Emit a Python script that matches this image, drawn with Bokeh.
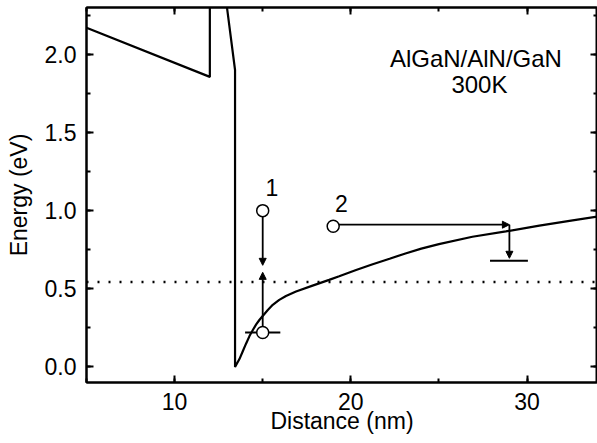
from bokeh.plotting import figure
from bokeh.models import (LinearAxis, SingleIntervalTicker, Span, Arrow, NormalHead,
                          ColumnDataSource, PrintfTickFormatter, CustomJSTickFormatter)
from bokeh.core.properties import value
from bokeh.embed import file_html
from bokeh.resources import INLINE

# ---------------- data ----------------
# Conduction band profile (nm, eV)
band_x = [5.0, 12.0, 12.0, 13.43, 13.43, 13.68, 13.87, 14.06, 14.25, 14.44, 14.63,
          14.81, 15.0, 15.29, 15.57, 15.94, 16.32, 16.89, 17.83, 18.77, 19.34,
          20.3, 21.2, 22.2, 23.1, 24.0, 25.0, 26.9, 28.8, 30.7, 32.5, 34.0]
band_y = [2.17, 1.856, 3.15, 1.90, 0.0, 0.05, 0.10, 0.15, 0.197, 0.236, 0.272,
          0.30, 0.326, 0.364, 0.397, 0.429, 0.454, 0.482, 0.52, 0.557, 0.580,
          0.620, 0.655, 0.692, 0.726, 0.757, 0.786, 0.833, 0.867, 0.904, 0.936, 0.962]

fermi_level = 0.544

# open circles (states)
circ_x = [15.0, 15.0, 19.0]
circ_y = [1.0, 0.22, 0.90]

# horizontal level bars
bar_x0 = [14.0, 27.9]
bar_x1 = [16.0, 30.05]
bar_y = [0.22, 0.68]

# arrows (start -> end)
arr_x0 = [15.0, 15.0, 19.0, 29.0]
arr_y0 = [1.0, 0.22, 0.91, 0.91]
arr_x1 = [15.0, 15.0, 29.0, 29.0]
arr_y1 = [0.65, 0.605, 0.91, 0.695]

# numbered labels
num_text = ["1", "2"]
num_x = [15.52, 19.47]
num_y = [1.145, 1.045]

title_lines = ["AlGaN/AlN/GaN", "300K"]
title_x = [27.1, 27.3]
title_y = [1.974, 1.81]

x_label = "Distance (nm)"
y_label = "Energy (eV)"

FONT = "Liberation Sans"
FS = "23px"

p = figure(width=597, height=443, x_range=(5, 34), y_range=(-0.1, 2.3),
           output_backend="svg", toolbar_location=None,
           min_border_left=86, min_border_top=7, min_border_right=0,
           min_border_bottom=61, x_axis_location=None, y_axis_location=None)
p.xgrid.visible = False
p.ygrid.visible = False
p.outline_line_color = "black"
p.outline_line_width = 2
p.background_fill_color = "white"
p.border_fill_color = "white"


def make_axis(interval, visible_labels, label=None, fmt=None):
    ax = LinearAxis(ticker=SingleIntervalTicker(interval=interval, num_minor_ticks=2))
    ax.axis_line_width = 2
    ax.major_tick_line_width = 2
    ax.minor_tick_line_width = 2
    ax.major_tick_in = 7
    ax.major_tick_out = 0
    ax.minor_tick_in = 4
    ax.minor_tick_out = 0
    ax.major_label_text_font = FONT
    ax.major_label_text_color = "black"
    if visible_labels:
        ax.major_label_text_font_size = FS
        if fmt:
            ax.formatter = PrintfTickFormatter(format=fmt)
    else:
        ax.formatter = CustomJSTickFormatter(code="return '';")
        ax.major_label_text_font_size = "1px"
        ax.major_label_standoff = 0
    if label:
        ax.axis_label = label
        ax.axis_label_text_font = FONT
        ax.axis_label_text_font_size = FS
        ax.axis_label_text_font_style = "normal"
        ax.axis_label_text_color = "black"
    return ax


xb = make_axis(10, True, x_label, "%d")
xb.major_label_standoff = 10
xb.axis_label_standoff = -5
yl = make_axis(0.5, True, y_label, "%.1f")
yl.major_label_standoff = 10
yl.axis_label_standoff = 10
xt = make_axis(10, False)
yr = make_axis(0.5, False)
p.add_layout(xb, "below")
p.add_layout(yl, "left")
p.add_layout(xt, "above")
p.add_layout(yr, "right")

# Fermi level (dotted)
p.add_layout(Span(location=fermi_level, dimension="width", line_color="black",
                  line_width=2.5, line_dash="2 9"))

# band profile
p.line(band_x, band_y, line_color="black", line_width=2.2)

# level bars
p.segment(x0=bar_x0, y0=bar_y, x1=bar_x1, y1=bar_y, line_color="black", line_width=2)

# arrows (drawn under circles)
asrc = ColumnDataSource(dict(x0=arr_x0, y0=arr_y0, x1=arr_x1, y1=arr_y1))
p.add_layout(Arrow(x_start="x0", y_start="y0", x_end="x1", y_end="y1", source=asrc,
                   line_color="black", line_width=1.8, level="underlay",
                   end=NormalHead(size=7, fill_color="black", line_color="black", line_width=1)))

# open circles
p.scatter(circ_x, circ_y, size=12, marker="circle", fill_color="white",
          line_color="black", line_width=1.5)

# text
p.text(x=num_x, y=num_y, text=num_text, text_font=value(FONT),
       text_align="center", text_baseline="middle", text_font_size=FS, text_color="black")
p.text(x=title_x, y=title_y, text=title_lines, text_font=value(FONT),
       text_align="center", text_baseline="middle", text_font_size="24px", text_color="black")

open("out.html", "w").write(file_html(p, INLINE))
